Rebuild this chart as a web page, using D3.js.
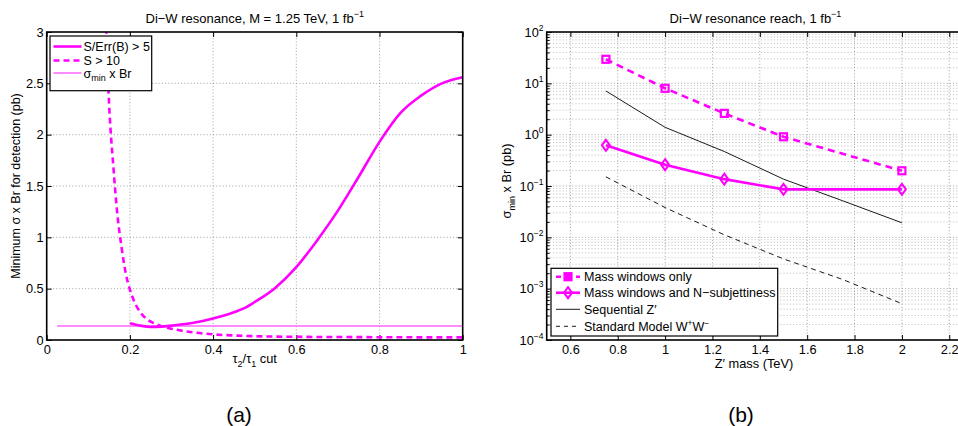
<!DOCTYPE html>
<html><head><meta charset="utf-8">
<script src="https://cdn.jsdelivr.net/npm/d3@7"></script>
<style>
body{margin:0;background:#fff;}
svg text{font-family:"Liberation Sans",Arial,Helvetica,sans-serif;fill:#000;}
</style></head><body>
<svg id="c" width="958" height="426"></svg>
<script>
// ---------- Data: panel (a) ----------
const tauCut = [0.2,0.225,0.25,0.275,0.3,0.35,0.4,0.45,0.475,0.5,0.55,0.6,0.65,0.7,0.75,0.8,0.85,0.9,0.95,1.0];
const sigErr5 = [0.163,0.14,0.127,0.13,0.14,0.165,0.21,0.27,0.31,0.37,0.51,0.71,0.97,1.26,1.59,1.93,2.21,2.38,2.50,2.56];
const tauCutS10 = [0.13,0.14,0.15,0.16,0.17,0.18,0.19,0.2,0.21,0.22,0.24,0.26,0.28,0.3,0.35,0.4,0.45,0.5,0.6,0.7,0.8,0.9,1.0];
const sigS10 = [4.6,3.4,2.3,1.7,1.22,0.9,0.65,0.49,0.38,0.30,0.205,0.16,0.13,0.11,0.075,0.055,0.044,0.037,0.031,0.029,0.027,0.026,0.026];
const sigmaMinBr = 0.136;
const sigmaMinRange = [0.025, 1.0];
const xTicksA = [0,0.2,0.4,0.6,0.8,1];
const yTicksA = [0,0.5,1,1.5,2,2.5,3];
const xTickLabelsA = ["0","0.2","0.4","0.6","0.8","1"];
const yTickLabelsA = ["0","0.5","1","1.5","2","2.5","3"];

// ---------- Data: panel (b) ----------
const zMass = [0.75,1.0,1.25,1.5,2.0];
const massOnly = [29.4,8.0,2.6,0.91,0.198];
const massNsub = [0.62,0.26,0.136,0.086,0.086];
const theoryMass = [0.75,1.0,1.25,1.5,1.75,2.0];
const seqZ = [7.1,1.39,0.47,0.136,0.0515,0.0192];
const smWW = [0.151,0.038,0.0112,0.0038,0.00151,0.00051];
const xTicksB = [0.6,0.8,1.0,1.2,1.4,1.6,1.8,2.0,2.2];
const xTickLabelsB = ["0.6","0.8","1","1.2","1.4","1.6","1.8","2","2.2"];
const yExpB = [-4,-3,-2,-1,0,1,2];

const MAG = "#ff00ff";
const svg = d3.select("#c");
const FS = 12.8;   // general text
const FT = 13;     // titles

// ---------- Panel (a) ----------
const xA = d3.scaleLinear().domain([0,1]).range([46.7,462.7]);
const yA = d3.scaleLinear().domain([0,3]).range([340,32]);
const gA = svg.append("g");
const defs = svg.append("defs");
defs.append("clipPath").attr("id","clipA").append("rect")
  .attr("x",xA(0)).attr("y",yA(3)).attr("width",xA(1)-xA(0)).attr("height",yA(0)-yA(3));

const gridStyle = s => s.attr("stroke","#8a8a8a").attr("stroke-width",0.8).attr("stroke-dasharray","1,2.2");
xTicksA.slice(1,-1).forEach(t=>gridStyle(gA.append("line").attr("x1",xA(t)).attr("x2",xA(t)).attr("y1",yA(0)).attr("y2",yA(3))));
yTicksA.slice(1,-1).forEach(t=>gridStyle(gA.append("line").attr("x1",xA(0)).attr("x2",xA(1)).attr("y1",yA(t)).attr("y2",yA(t))));

const axA_b = d3.axisBottom(xA).tickValues(xTicksA).tickFormat((d,i)=>xTickLabelsA[i]).tickSizeInner(-5).tickSizeOuter(0).tickPadding(5);
const axA_t = d3.axisTop(xA).tickValues(xTicksA).tickFormat("").tickSizeInner(-5).tickSizeOuter(0);
const axA_l = d3.axisLeft(yA).tickValues(yTicksA).tickFormat((d,i)=>yTickLabelsA[i]).tickSizeInner(-5).tickSizeOuter(0).tickPadding(3);
const axA_r = d3.axisRight(yA).tickValues(yTicksA).tickFormat("").tickSizeInner(-5).tickSizeOuter(0);
function styleAxis(g){ g.select(".domain").remove(); g.selectAll("line").attr("stroke","#000").attr("stroke-width",1);
  g.selectAll("text").attr("font-size",FS).attr("font-family","Liberation Sans, Arial, sans-serif").attr("fill","#000"); }
gA.append("g").attr("transform",`translate(0,${yA(0)})`).call(axA_b).call(styleAxis);
gA.append("g").attr("transform",`translate(0,${yA(3)})`).call(axA_t).call(styleAxis);
gA.append("g").attr("transform",`translate(${xA(0)},0)`).call(axA_l).call(styleAxis);
gA.append("g").attr("transform",`translate(${xA(1)},0)`).call(axA_r).call(styleAxis);

const lineA = d3.line().x(d=>xA(d[0])).y(d=>yA(d[1])).curve(d3.curveMonotoneX);
const plotA = gA.append("g").attr("clip-path","url(#clipA)");
plotA.append("path").attr("d",d3.line().x(d=>xA(d)).y(()=>yA(sigmaMinBr))(sigmaMinRange))
  .attr("fill","none").attr("stroke","#ff66ff").attr("stroke-width",1.5);
plotA.append("path").attr("d",lineA(tauCutS10.map((t,i)=>[t,sigS10[i]])))
  .attr("fill","none").attr("stroke",MAG).attr("stroke-width",2.6).attr("stroke-dasharray","6,4");
plotA.append("path").attr("d",lineA(tauCut.map((t,i)=>[t,sigErr5[i]])))
  .attr("fill","none").attr("stroke",MAG).attr("stroke-width",2.6);

gA.append("rect").attr("x",xA(0)).attr("y",yA(3)).attr("width",xA(1)-xA(0)).attr("height",yA(0)-yA(3))
  .attr("fill","none").attr("stroke","#000").attr("stroke-width",1.6);

const tA = gA.append("text").attr("x",(xA(0)+xA(1))/2).attr("y",22.5).attr("text-anchor","middle").attr("font-size",FT);
tA.append("tspan").text("Di\u2212W resonance, M = 1.25 TeV, 1 fb");
tA.append("tspan").attr("dy",-5.5).attr("font-size",9).text("\u22121");
const xlA = gA.append("text").attr("x",(xA(0)+xA(1))/2).attr("y",363).attr("text-anchor","middle").attr("font-size",FS);
xlA.append("tspan").text("\u03c4");
xlA.append("tspan").attr("dy",3.5).attr("font-size",9).text("2");
xlA.append("tspan").attr("dy",-3.5).text("/\u03c4");
xlA.append("tspan").attr("dy",3.5).attr("font-size",9).text("1");
xlA.append("tspan").attr("dy",-3.5).text(" cut");
gA.append("text").attr("transform",`translate(20,${(yA(0)+yA(3))/2}) rotate(-90)`).attr("text-anchor","middle")
  .attr("font-size",12.5).text("Minimum \u03c3 x Br for detection (pb)");

// legend (a)
const lgA = gA.append("g");
lgA.append("rect").attr("x",50).attr("y",36).attr("width",101.7).attr("height",54.7).attr("fill","#fff").attr("stroke","#000").attr("stroke-width",1.2);
const legAItems = [
  {y:46.5, dash:null, w:2.6, c:MAG, label:"S/Err(B) > 5"},
  {y:60.5, dash:"6,4", w:2.6, c:MAG, label:"S > 10"},
  {y:73, dash:null, w:1.5, c:"#ff66ff", label:null}
];
legAItems.forEach(it=>{
  lgA.append("line").attr("x1",53.5).attr("x2",81.5).attr("y1",it.y).attr("y2",it.y).attr("stroke",it.c).attr("stroke-width",it.w).attr("stroke-dasharray",it.dash);
  if(it.label) lgA.append("text").attr("x",83.5).attr("y",it.y+4).attr("font-size",12.5).text(it.label);
});
const l3 = lgA.append("text").attr("x",83.5).attr("y",77.5).attr("font-size",12.5);
l3.append("tspan").text("\u03c3");
l3.append("tspan").attr("dy",3.5).attr("font-size",9).text("min");
l3.append("tspan").attr("dy",-3.5).text(" x Br");

// ---------- Panel (b) ----------
const xB = d3.scaleLinear().domain([0.5,2.25]).range([546.7,961.1]);
const yB = d3.scaleLog().domain([1e-4,1e2]).range([340,32]);
const gB = svg.append("g");
defs.append("clipPath").attr("id","clipB").append("rect")
  .attr("x",xB(0.5)).attr("y",yB(1e2)).attr("width",xB(2.25)-xB(0.5)).attr("height",yB(1e-4)-yB(1e2));

const minorB = [];
yExpB.slice(0,-1).forEach(e=>{ for(let k=2;k<=9;k++) minorB.push(k*Math.pow(10,e)); });
const majorB = yExpB.map(e=>Math.pow(10,e));
minorB.forEach(v=>gridStyle(gB.append("line").attr("x1",xB(0.5)).attr("x2",xB(2.25)).attr("y1",yB(v)).attr("y2",yB(v))).attr("stroke","#aaa"));
majorB.slice(1,-1).forEach(v=>gridStyle(gB.append("line").attr("x1",xB(0.5)).attr("x2",xB(2.25)).attr("y1",yB(v)).attr("y2",yB(v))));
xTicksB.forEach(t=>gridStyle(gB.append("line").attr("x1",xB(t)).attr("x2",xB(t)).attr("y1",yB(1e-4)).attr("y2",yB(1e2))));

const axB_b = d3.axisBottom(xB).tickValues(xTicksB).tickFormat((d,i)=>xTickLabelsB[i]).tickSizeInner(-5).tickSizeOuter(0).tickPadding(5);
const axB_t = d3.axisTop(xB).tickValues(xTicksB).tickFormat("").tickSizeInner(-5).tickSizeOuter(0);
const axB_l = d3.axisLeft(yB).tickValues(majorB).tickFormat("").tickSizeInner(-5).tickSizeOuter(0);
const axB_lm = d3.axisLeft(yB).tickValues(minorB).tickFormat("").tickSizeInner(-3).tickSizeOuter(0);
gB.append("g").attr("transform",`translate(0,${yB(1e-4)})`).call(axB_b).call(styleAxis);
gB.append("g").attr("transform",`translate(0,${yB(1e2)})`).call(axB_t).call(styleAxis);
gB.append("g").attr("transform",`translate(${xB(0.5)},0)`).call(axB_l).call(styleAxis);
gB.append("g").attr("transform",`translate(${xB(0.5)},0)`).call(axB_lm).call(styleAxis);
yExpB.forEach(e=>{
  const t = gB.append("text").attr("x",543.5).attr("y",yB(Math.pow(10,e))+4.5).attr("text-anchor","end").attr("font-size",FS);
  t.append("tspan").text("10");
  t.append("tspan").attr("dy",-6).attr("font-size",8.5).text(e<0?"\u2212"+(-e):String(e));
});

const plotB = gB.append("g").attr("clip-path","url(#clipB)");
const lineB = d3.line().x(d=>xB(d[0])).y(d=>yB(d[1]));
plotB.append("path").attr("d",lineB(theoryMass.map((m,i)=>[m,smWW[i]]))).attr("fill","none").attr("stroke","#000").attr("stroke-width",0.9).attr("stroke-dasharray","5,4");
plotB.append("path").attr("d",lineB(theoryMass.map((m,i)=>[m,seqZ[i]]))).attr("fill","none").attr("stroke","#000").attr("stroke-width",0.9);
plotB.append("path").attr("d",lineB(zMass.map((m,i)=>[m,massOnly[i]]))).attr("fill","none").attr("stroke",MAG).attr("stroke-width",2.6).attr("stroke-dasharray","7,5");
plotB.append("path").attr("d",lineB(zMass.map((m,i)=>[m,massNsub[i]]))).attr("fill","none").attr("stroke",MAG).attr("stroke-width",2.6);
const sq = (g,cx,cy)=>g.append("rect").attr("x",cx-3.5).attr("y",cy-3.5).attr("width",7).attr("height",7).attr("fill","none").attr("stroke",MAG).attr("stroke-width",2.2);
const dm = (g,cx,cy)=>g.append("path").attr("d",`M${cx},${cy-5.5}L${cx+4},${cy}L${cx},${cy+5.5}L${cx-4},${cy}Z`).attr("fill","none").attr("stroke",MAG).attr("stroke-width",2);
zMass.forEach((m,i)=>sq(plotB,xB(m),yB(massOnly[i])));
zMass.forEach((m,i)=>dm(plotB,xB(m),yB(massNsub[i])));

gB.append("rect").attr("x",xB(0.5)).attr("y",yB(1e2)).attr("width",xB(2.25)-xB(0.5)).attr("height",yB(1e-4)-yB(1e2))
  .attr("fill","none").attr("stroke","#000").attr("stroke-width",1.6);

const tB = gB.append("text").attr("x",755.5).attr("y",22.5).attr("text-anchor","middle").attr("font-size",FT);
tB.append("tspan").text("Di\u2212W resonance reach, 1 fb");
tB.append("tspan").attr("dy",-5.5).attr("font-size",9).text("\u22121");
gB.append("text").attr("x",754).attr("y",367.5).attr("text-anchor","middle").attr("font-size",FS).text("Z\u2032 mass (TeV)");
const ylB = gB.append("text").attr("transform",`translate(511,181) rotate(-90)`).attr("text-anchor","middle").attr("font-size",FS);
ylB.append("tspan").text("\u03c3");
ylB.append("tspan").attr("dy",4).attr("font-size",9).text("min");
ylB.append("tspan").attr("dy",-4).text(" x Br (pb)");

// legend (b)
const lgB = gB.append("g");
lgB.append("rect").attr("x",551).attr("y",268.3).attr("width",226.7).attr("height",67.7).attr("fill","#fff").attr("stroke","#000").attr("stroke-width",1.2);
const legBItems = [
  {y:276.7, c:MAG, w:2.6, dash:"5,5", mk:"sq", label:"Mass windows only"},
  {y:292.7, c:MAG, w:2.6, dash:null, mk:"dm", label:"Mass windows and N\u2212subjettiness"},
  {y:309.3, c:"#000", w:0.9, dash:null, mk:null, label:"Sequential Z\u2032"},
  {y:326.3, c:"#000", w:0.9, dash:"4,4", mk:null, label:null}
];
legBItems.forEach(it=>{
  lgB.append("line").attr("x1",556).attr("x2",580).attr("y1",it.y).attr("y2",it.y).attr("stroke",it.c).attr("stroke-width",it.w).attr("stroke-dasharray",it.dash);
  if(it.mk==="sq") sq(lgB,568,it.y).attr("fill",MAG);
  if(it.mk==="dm") dm(lgB,568,it.y);
  if(it.label) lgB.append("text").attr("x",584).attr("y",it.y+4.5).attr("font-size",12.5).text(it.label);
});
const l4 = lgB.append("text").attr("x",584).attr("y",326.3+4.5).attr("font-size",12.5);
l4.append("tspan").text("Standard Model W");
l4.append("tspan").attr("dy",-5).attr("font-size",8.5).text("+");
l4.append("tspan").attr("dy",5).text("W");
l4.append("tspan").attr("dy",-5).attr("font-size",8.5).text("\u2212");

svg.append("text").attr("x",239).attr("y",422).attr("text-anchor","middle").attr("font-size",21).attr("font-family","Liberation Serif, DejaVu Serif, serif").text("(a)");
svg.append("text").attr("x",741).attr("y",422).attr("text-anchor","middle").attr("font-size",21).attr("font-family","Liberation Serif, DejaVu Serif, serif").text("(b)");
</script></body></html>
